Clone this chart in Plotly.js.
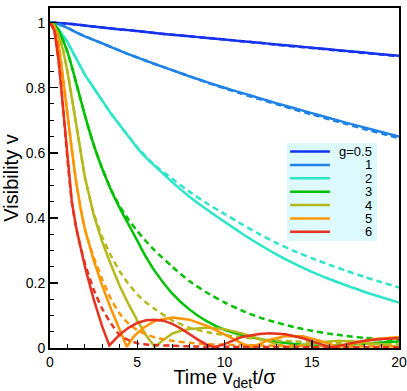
<!DOCTYPE html>
<html>
<head>
<meta charset="utf-8">
<script src="https://cdn.plot.ly/plotly-3.0.1.min.js"></script>
<style>
  html, body { margin: 0; padding: 0; background: #fff; }
  #chart { width: 407px; height: 391px; }
</style>
</head>
<body>
<div id="chart"></div>
<script>
// legend labels and colours, one per g
const gLabels = ['g=0.5', '1', '2', '3', '4', '5', '6'];
const gColors = ['#1432f0', '#1e82e6', '#2de6c8', '#00c000', '#b4b91e', '#ff9600', '#e6321e'];

// shared time grid for the smooth curves
const tGrid = [0, 0.25, 0.5, 0.75, 1, 1.25, 1.5, 1.75, 2, 2.5, 3, 3.5, 4, 4.5, 5, 5.5, 6, 7, 8, 9, 10, 11, 12, 13, 14, 15, 16, 17, 18, 19, 20];

// g = 0.5
const vSolid05 = [1, 1, 0.999, 0.998, 0.997, 0.996, 0.994, 0.993, 0.991, 0.988, 0.985, 0.982, 0.979, 0.977, 0.974, 0.971, 0.968, 0.963, 0.958, 0.953, 0.948, 0.943, 0.938, 0.933, 0.928, 0.923, 0.918, 0.913, 0.908, 0.903, 0.898];
const vDash05 = [1, 1, 0.999, 0.998, 0.997, 0.996, 0.994, 0.993, 0.991, 0.988, 0.985, 0.982, 0.979, 0.977, 0.974, 0.971, 0.968, 0.963, 0.958, 0.953, 0.948, 0.943, 0.938, 0.932, 0.927, 0.922, 0.917, 0.912, 0.907, 0.902, 0.897];

// g = 1
const vSolid1 = [1, 0.999, 0.995, 0.99, 0.984, 0.977, 0.97, 0.964, 0.958, 0.947, 0.936, 0.925, 0.914, 0.903, 0.893, 0.883, 0.873, 0.854, 0.835, 0.817, 0.8, 0.784, 0.768, 0.752, 0.737, 0.722, 0.707, 0.692, 0.678, 0.664, 0.65];
const vDash1 = [1, 0.999, 0.995, 0.99, 0.984, 0.977, 0.97, 0.964, 0.958, 0.947, 0.936, 0.925, 0.914, 0.903, 0.893, 0.883, 0.873, 0.854, 0.835, 0.816, 0.798, 0.781, 0.765, 0.749, 0.733, 0.718, 0.703, 0.688, 0.673, 0.659, 0.645];

// g = 2
const vSolid2 = [1, 0.995, 0.98, 0.96, 0.94, 0.915, 0.89, 0.865, 0.84, 0.8, 0.76, 0.72, 0.685, 0.65, 0.615, 0.585, 0.56, 0.51, 0.465, 0.425, 0.388, 0.352, 0.318, 0.287, 0.259, 0.234, 0.212, 0.192, 0.173, 0.156, 0.14];
const vDash2 = [1, 0.995, 0.98, 0.96, 0.94, 0.915, 0.89, 0.865, 0.84, 0.8, 0.76, 0.72, 0.685, 0.65, 0.617, 0.588, 0.562, 0.52, 0.48, 0.444, 0.412, 0.38, 0.35, 0.322, 0.298, 0.276, 0.256, 0.237, 0.219, 0.202, 0.186];

// g = 3
const vSolid3 = [1, 0.994, 0.975, 0.945, 0.91, 0.865, 0.815, 0.765, 0.715, 0.625, 0.55, 0.485, 0.43, 0.38, 0.33, 0.28, 0.237, 0.168, 0.118, 0.082, 0.056, 0.04, 0.028, 0.019, 0.012, 0.008, 0.007, 0.009, 0.013, 0.017, 0.02];
const vDash3 = [1, 0.994, 0.975, 0.945, 0.91, 0.865, 0.815, 0.765, 0.715, 0.625, 0.55, 0.487, 0.435, 0.395, 0.36, 0.328, 0.3, 0.25, 0.205, 0.17, 0.14, 0.115, 0.094, 0.078, 0.064, 0.053, 0.044, 0.037, 0.031, 0.027, 0.024];

// g = 4
const tSolid4 = [0, 0.25, 0.5, 0.75, 1, 1.25, 1.5, 1.75, 2, 2.5, 3, 3.5, 4, 4.5, 5, 5.5, 6, 6.5, 7, 7.5, 8, 9, 10, 11, 12, 13, 13.7, 14.5, 15.5, 16.5, 17.5, 18.5, 19.5, 20];
const vSolid4 = [1, 0.99, 0.96, 0.915, 0.85, 0.77, 0.69, 0.605, 0.525, 0.41, 0.325, 0.255, 0.19, 0.135, 0.085, 0.04, 0.003, 0.025, 0.044, 0.053, 0.058, 0.063, 0.058, 0.045, 0.028, 0.012, 0.002, 0.01, 0.018, 0.022, 0.02, 0.014, 0.006, 0.004];
const vDash4 = [1, 0.99, 0.96, 0.915, 0.85, 0.77, 0.69, 0.605, 0.525, 0.415, 0.34, 0.283, 0.235, 0.197, 0.165, 0.14, 0.12, 0.085, 0.062, 0.049, 0.04, 0.033, 0.027, 0.023, 0.02, 0.018, 0.016, 0.014, 0.013, 0.012, 0.011];

// g = 5
const tSolid5 = [0, 0.25, 0.5, 0.75, 1, 1.25, 1.5, 1.75, 2, 2.5, 3, 3.5, 4, 4.4, 4.8, 5.3, 6, 7, 8, 9, 10, 10.5, 11, 11.5, 12, 12.5, 13.5, 14.5, 15.5, 16.5, 17.5, 18.5, 20];
const vSolid5 = [1, 0.985, 0.93, 0.83, 0.72, 0.61, 0.51, 0.43, 0.365, 0.27, 0.19, 0.12, 0.055, 0.004, 0.035, 0.06, 0.083, 0.094, 0.087, 0.068, 0.042, 0.028, 0.014, 0.003, 0.012, 0.024, 0.037, 0.036, 0.022, 0.004, 0.015, 0.027, 0.034];
const vDash5 = [1, 0.985, 0.93, 0.83, 0.72, 0.61, 0.51, 0.43, 0.365, 0.28, 0.21, 0.15, 0.105, 0.075, 0.055, 0.042, 0.033, 0.022, 0.016, 0.012, 0.01, 0.009, 0.008, 0.007, 0.007, 0.006, 0.006, 0.005, 0.005, 0.005, 0.005];

// g = 6
const tSolid6 = [0, 0.25, 0.5, 0.75, 1, 1.25, 1.5, 2, 2.5, 3, 3.4, 3.7, 4, 4.5, 5, 5.5, 6, 6.5, 7, 7.5, 8, 8.5, 9, 9.4, 10, 10.5, 11, 12, 12.6, 13.5, 14.5, 15.5, 16.1, 17, 18, 19, 20];
const vSolid6 = [1, 0.975, 0.88, 0.74, 0.58, 0.45, 0.37, 0.25, 0.15, 0.065, 0.008, 0.025, 0.042, 0.062, 0.077, 0.085, 0.087, 0.084, 0.074, 0.06, 0.042, 0.025, 0.01, 0.002, 0.012, 0.024, 0.034, 0.043, 0.045, 0.042, 0.03, 0.012, 0.002, 0.012, 0.022, 0.028, 0.03];
const vDash6 = [1, 0.975, 0.88, 0.74, 0.58, 0.45, 0.37, 0.31, 0.26, 0.18, 0.12, 0.075, 0.04, 0.024, 0.015, 0.011, 0.009, 0.007, 0.005, 0.004, 0.004, 0.003, 0.003, 0.003, 0.003, 0.002, 0.002, 0.002, 0.002, 0.002, 0.002];

const solids = [
    [tGrid, vSolid05], [tGrid, vSolid1], [tGrid, vSolid2], [tGrid, vSolid3],
    [tSolid4, vSolid4], [tSolid5, vSolid5], [tSolid6, vSolid6]
];
const dashes = [vDash05, vDash1, vDash2, vDash3, vDash4, vDash5, vDash6];

const traces = [];
gLabels.forEach((g, i) => {
    // dashed first so the solid one sits on top
    traces.push({
        x: tGrid, y: dashes[i], mode: 'lines', name: g + ' dashed',
        line: { color: gColors[i], width: 2.5, dash: '6px,4px', shape: 'spline', smoothing: 0.6 },
        hoverinfo: 'skip'
    });
    const oscill = i >= 4;
    traces.push({
        x: solids[i][0], y: solids[i][1], mode: 'lines', name: g,
        line: { color: gColors[i], width: 2.5, shape: oscill ? 'linear' : 'spline', smoothing: 0.6 },
        hoverinfo: 'skip'
    });
});

// hand-made legend, the default one spaces rows too far apart
const shapes = [{
    type: 'rect', xref: 'paper', yref: 'paper', layer: 'above',
    x0: 0.679, x1: 0.937, y0: 0.315, y1: 0.603,
    fillcolor: 'rgb(220,250,255)', line: { width: 0 }
}];
const annotations = [];
gLabels.forEach((g, i) => {
    const yy = 0.578 - i * 0.0394;
    shapes.push({
        type: 'line', xref: 'paper', yref: 'paper', layer: 'above',
        x0: 0.688, x1: 0.802, y0: yy, y1: yy,
        line: { color: gColors[i], width: 2.5 }
    });
    annotations.push({
        xref: 'paper', yref: 'paper', x: 0.925, y: yy, xanchor: 'right', yanchor: 'middle',
        text: g, showarrow: false, borderpad: 0,
        font: { size: 13, color: '#000' }
    });
});

const axisCommon = {
    showline: true, mirror: true, linecolor: '#000', linewidth: 2,
    ticks: 'inside', ticklen: 8, tickwidth: 1.5, tickcolor: '#000',
    showgrid: false, zeroline: false,
    tickfont: { size: 14, color: '#000' }
};

const layout = {
    width: 407, height: 391,
    margin: { l: 50, r: 8, t: 8, b: 43 },
    paper_bgcolor: '#fff', plot_bgcolor: '#fff',
    font: { family: 'Liberation Sans, Arial, sans-serif', color: '#000' },
    showlegend: false,
    xaxis: {
        ...axisCommon,
        range: [0, 20], dtick: 5, tick0: 0,
        minor: { ticks: 'inside', dtick: 1, ticklen: 4, tickwidth: 1, tickcolor: '#000' },
        title: { text: 'Time v<sub>det</sub>t/σ', font: { size: 20 }, standoff: 4 }
    },
    yaxis: {
        ...axisCommon,
        range: [0, 1.045], dtick: 0.2, tick0: 0,
        minor: { ticks: 'inside', dtick: 0.05, ticklen: 4, tickwidth: 1, tickcolor: '#000' },
        title: { text: 'Visibility v', font: { size: 20 }, standoff: 4 }
    },
    shapes: shapes,
    annotations: annotations
};

Plotly.newPlot('chart', traces, layout, { displayModeBar: false, staticPlot: true });
</script>
</body>
</html>
